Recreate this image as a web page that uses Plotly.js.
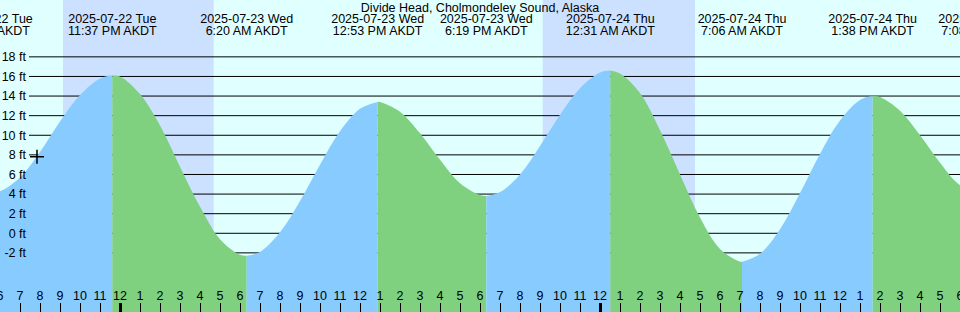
<!DOCTYPE html>
<html><head><meta charset="utf-8">
<script src="https://cdn.plot.ly/plotly-3.0.1.min.js"></script>
<style>html,body{margin:0;padding:0;background:#e0ffff}#chart{width:960px;height:312px}</style>
</head><body><div id="chart"></div>
<script>
const chartTitle = 'Divide Head, Cholmondeley Sound, Alaska';

const hourTimes = [
  '2025-07-22 18:00','2025-07-22 19:00','2025-07-22 20:00','2025-07-22 21:00','2025-07-22 22:00','2025-07-22 23:00',
  '2025-07-23 00:00','2025-07-23 01:00','2025-07-23 02:00','2025-07-23 03:00','2025-07-23 04:00','2025-07-23 05:00',
  '2025-07-23 06:00','2025-07-23 07:00','2025-07-23 08:00','2025-07-23 09:00','2025-07-23 10:00','2025-07-23 11:00',
  '2025-07-23 12:00','2025-07-23 13:00','2025-07-23 14:00','2025-07-23 15:00','2025-07-23 16:00','2025-07-23 17:00',
  '2025-07-23 18:00','2025-07-23 19:00','2025-07-23 20:00','2025-07-23 21:00','2025-07-23 22:00','2025-07-23 23:00',
  '2025-07-24 00:00','2025-07-24 01:00','2025-07-24 02:00','2025-07-24 03:00','2025-07-24 04:00','2025-07-24 05:00',
  '2025-07-24 06:00','2025-07-24 07:00','2025-07-24 08:00','2025-07-24 09:00','2025-07-24 10:00','2025-07-24 11:00',
  '2025-07-24 12:00','2025-07-24 13:00','2025-07-24 14:00','2025-07-24 15:00','2025-07-24 16:00','2025-07-24 17:00',
  '2025-07-24 18:00'
];
const hourFeet = [
  4.3, 5.7, 8.3, 11.4, 14.1, 15.8,
  16.0, 14.2, 11.0, 6.8, 2.7, -0.6,
  -2.2, -1.9, 0.1, 3.3, 7.0, 10.4,
  12.7, 13.4, 12.4, 10.2, 7.5, 5.1,
  3.9, 4.2, 6.0, 8.9, 12.1, 14.8,
  16.4, 16.3, 14.3, 10.5, 6.0, 1.6,
  -1.6, -2.9, -2.1, 0.4, 4.1, 8.1,
  11.5, 13.6, 13.9, 12.5, 10.0, 7.2,
  4.9
];

const extremeTimes = ['2025-07-22 17:26','2025-07-22 23:37','2025-07-23 06:20','2025-07-23 12:53','2025-07-23 18:19',
                      '2025-07-24 00:31','2025-07-24 07:06','2025-07-24 13:38','2025-07-24 19:08'];
const extremeFeet = [4.2, 16.1, -2.3, 13.4, 3.8, 16.6, -2.9, 14.0, 3.9];
const extremeDateLabels = ['2025-07-22 Tue','2025-07-22 Tue','2025-07-23 Wed','2025-07-23 Wed','2025-07-23 Wed',
                           '2025-07-24 Thu','2025-07-24 Thu','2025-07-24 Thu','2025-07-24 Thu'];
const extremeTimeLabels = ['5:26 PM AKDT','11:37 PM AKDT','6:20 AM AKDT','12:53 PM AKDT','6:19 PM AKDT',
                           '12:31 AM AKDT','7:06 AM AKDT','1:38 PM AKDT','7:08 PM AKDT'];

const nightStarts = ['2025-07-22 21:09','2025-07-23 21:08'];
const nightEnds = ['2025-07-23 04:41','2025-07-24 04:45'];
const midnightTicks = ['2025-07-23 00:00','2025-07-24 00:00'];
const yTickFeet = [-2, 0, 2, 4, 6, 8, 10, 12, 14, 16, 18];
const yTickLabels = ['-2 ft','0 ft','2 ft','4 ft','6 ft','8 ft','10 ft','12 ft','14 ft','16 ft','18 ft'];
const markerTimes = ['2025-07-22 19:51'];
const markerFeet = [7.8];

const xRange = ['2025-07-22 18:00','2025-07-24 18:00'];
const yRange = [-8.03, 23.8];
const FONT = 'Liberation Sans, Arial, sans-serif';
const FS = 12.5;
const RISE = '#88ccff', FALL = '#7fd07f';

const ms = s => new Date(s.replace(' ', 'T') + ':00Z').getTime();
const pts = hourTimes.map((t, i) => ({t, v: hourFeet[i], m: ms(t)}))
  .concat(extremeTimes.map((t, i) => ({t, v: extremeFeet[i], m: ms(t)})))
  .sort((a, b) => a.m - b.m);

const traces = [];
for (let k = 0; k < extremeTimes.length - 1; k++) {
  const a = ms(extremeTimes[k]), b = ms(extremeTimes[k + 1]);
  const seg = pts.filter(p => p.m >= a && p.m <= b);
  const rising = extremeFeet[k + 1] > extremeFeet[k];
  traces.push({x: [extremeTimes[k], extremeTimes[k + 1]], y: [yRange[0] - 2, yRange[0] - 2],
    mode: 'lines', line: {width: 0}, hoverinfo: 'skip', showlegend: false});
  traces.push({x: seg.map(p => p.t), y: seg.map(p => p.v), mode: 'lines',
    line: {width: 0, shape: 'spline'}, fill: 'tonexty', fillcolor: rising ? RISE : FALL,
    hoverinfo: 'skip', showlegend: false});
}
traces.push({x: markerTimes, y: markerFeet, xaxis: 'x2', mode: 'markers',
  marker: {symbol: 'cross-thin', size: 10, line: {width: 1.5, color: '#000'}, color: '#000'},
  hoverinfo: 'skip', showlegend: false});
// event labels: two text rows, clipped at the plot edges like the reference
const DATE_ROW = 20, TIME_ROW = 32;
traces.push({x: extremeTimes, y: extremeTimes.map(() => DATE_ROW), yaxis: 'y2', mode: 'text',
  text: extremeDateLabels, textposition: 'middle center', cliponaxis: true,
  textfont: {family: FONT, size: FS, color: '#000'}, hoverinfo: 'skip', showlegend: false});
traces.push({x: extremeTimes, y: extremeTimes.map(() => TIME_ROW), yaxis: 'y2', mode: 'text',
  text: extremeTimeLabels, textposition: 'middle center', cliponaxis: true,
  textfont: {family: FONT, size: FS, color: '#000'}, hoverinfo: 'skip', showlegend: false});

const shapes = [];
nightStarts.forEach((s, i) => shapes.push({type: 'rect', xref: 'x', yref: 'paper', x0: s, x1: nightEnds[i],
  y0: 0, y1: 1, fillcolor: '#cce0ff', line: {width: 0}, layer: 'below'}));
yTickFeet.forEach(v => shapes.push({type: 'line', xref: 'paper', yref: 'y', x0: 29 / 960, x1: 1, y0: v, y1: v,
  line: {color: '#000', width: 1}, layer: 'below'}));

const layout = {
  width: 960, height: 312, margin: {l: 0, r: 0, t: 0, b: 0},
  paper_bgcolor: '#e0ffff', plot_bgcolor: '#e0ffff',
  font: {family: FONT, size: FS, color: '#000'},
  title: {text: chartTitle, x: 0.5, xanchor: 'center', y: 1 - 8 / 312, yanchor: 'middle', yref: 'container',
    font: {family: FONT, size: FS, color: '#000'}},
  showlegend: false,
  xaxis: {type: 'date', range: xRange, dtick: 3600000, tick0: '2025-07-22 00:00', tickformat: '%-I',
    ticks: 'inside', ticklen: 9, tickwidth: 1, tickcolor: '#000', ticklabelposition: 'inside',
    ticklabeloverflow: 'allow', showgrid: false, zeroline: false, showline: false,
    tickfont: {family: FONT, size: FS, color: '#000'}, fixedrange: true},
  xaxis2: {type: 'date', overlaying: 'x', anchor: 'y', side: 'bottom', range: xRange, tickmode: 'array',
    tickvals: midnightTicks, ticks: 'inside', ticklen: 9, tickwidth: 3, tickcolor: '#000',
    showticklabels: false, showgrid: false, zeroline: false, showline: false, fixedrange: true},
  yaxis: {range: yRange, anchor: 'free', position: 29 / 960, side: 'left', tickmode: 'array',
    tickvals: yTickFeet, ticktext: yTickLabels, ticks: '', ticklabelstandoff: 3,
    showgrid: false, zeroline: false, showline: false,
    automargin: false, tickfont: {family: FONT, size: FS, color: '#000'}, fixedrange: true},
  yaxis2: {overlaying: 'y', range: [312, 0], visible: false, fixedrange: true},
  shapes
};

Plotly.newPlot('chart', traces, layout, {displayModeBar: false, staticPlot: true});
</script></body></html>
